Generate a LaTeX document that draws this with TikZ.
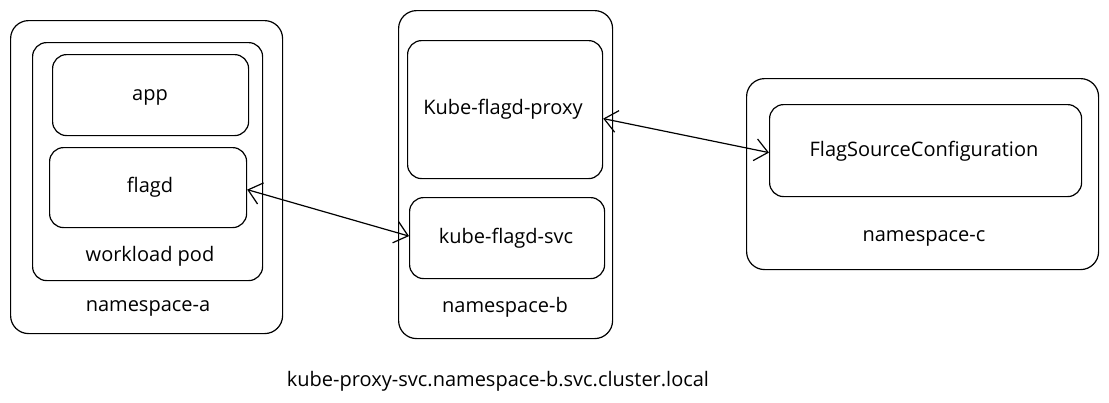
\documentclass[tikz,border=0pt]{standalone}
\usepackage{fontspec}
\setmainfont{Open Sans}
\usetikzlibrary{arrows.meta}
\begin{document}
\begin{tikzpicture}[x=1pt,y=-1pt,
  box/.style={draw=black,line width=1.2pt,rounded corners=18pt},
  ibox/.style={draw=black,line width=1.2pt,rounded corners=14pt},
  lbl/.style={font=\fontsize{20}{24}\selectfont,text=black},
  link/.style={draw=black,line width=1.2pt,{Straight Barb[length=13pt,width=22pt]}-{Straight Barb[length=13pt,width=22pt]}}]
\useasboundingbox[fill=white] (0,0) rectangle (1109,402);
% namespace-a
\node[box,minimum width=272pt,minimum height=313pt,anchor=north west] (nsa) at (10,20) {};
\node[ibox,minimum width=230pt,minimum height=238pt,anchor=north west] (pod) at (32,42) {};
\node[ibox,minimum width=196pt,minimum height=81pt,anchor=north west] (app) at (52,54) {};
\node[ibox,minimum width=197pt,minimum height=80pt,anchor=north west] (flagd) at (49,147) {};
\node[lbl] (tapp) at (150,97) {app};
\node[lbl] (tflagd) at (150,187) {flagd};
\node[lbl] (tpod) at (150,256) {workload pod};
\node[lbl] (tnsa) at (148,308) {namespace-a};
% namespace-b
\node[box,minimum width=214pt,minimum height=328pt,anchor=north west] (nsb) at (398,10) {};
\node[ibox,minimum width=195pt,minimum height=138pt,anchor=north west] (proxy) at (407,40) {};
\node[ibox,minimum width=195pt,minimum height=81pt,anchor=north west] (svc) at (409,197) {};
\node[lbl] (tproxy) at (503,109) {Kube-flagd-proxy};
\node[lbl] (tsvc) at (506,238) {kube-flagd-svc};
\node[lbl] (tnsb) at (505,307) {namespace-b};
% namespace-c
\node[box,minimum width=352pt,minimum height=191pt,anchor=north west] (nsc) at (746,78) {};
\node[ibox,minimum width=312pt,minimum height=92pt,anchor=north west] (fsc) at (769,104) {};
\node[lbl] (tfsc) at (924,151) {FlagSourceConfiguration};
\node[lbl] (tnsc) at (924,238) {namespace-c};
% bottom label
\node[lbl] (tdns) at (498,381) {kube-proxy-svc.namespace-b.svc.cluster.local};
% connectors
\coordinate (fr) at ([yshift=-2pt]flagd.east);
\coordinate (sl) at ([yshift=2pt]svc.west);
\coordinate (pr) at ([yshift=-9pt]proxy.east);
\coordinate (fl) at ([yshift=-2pt]fsc.west);
\draw[link] (fr) -- (sl);
\draw[link] (pr) -- (fl);
\end{tikzpicture}
\end{document}
